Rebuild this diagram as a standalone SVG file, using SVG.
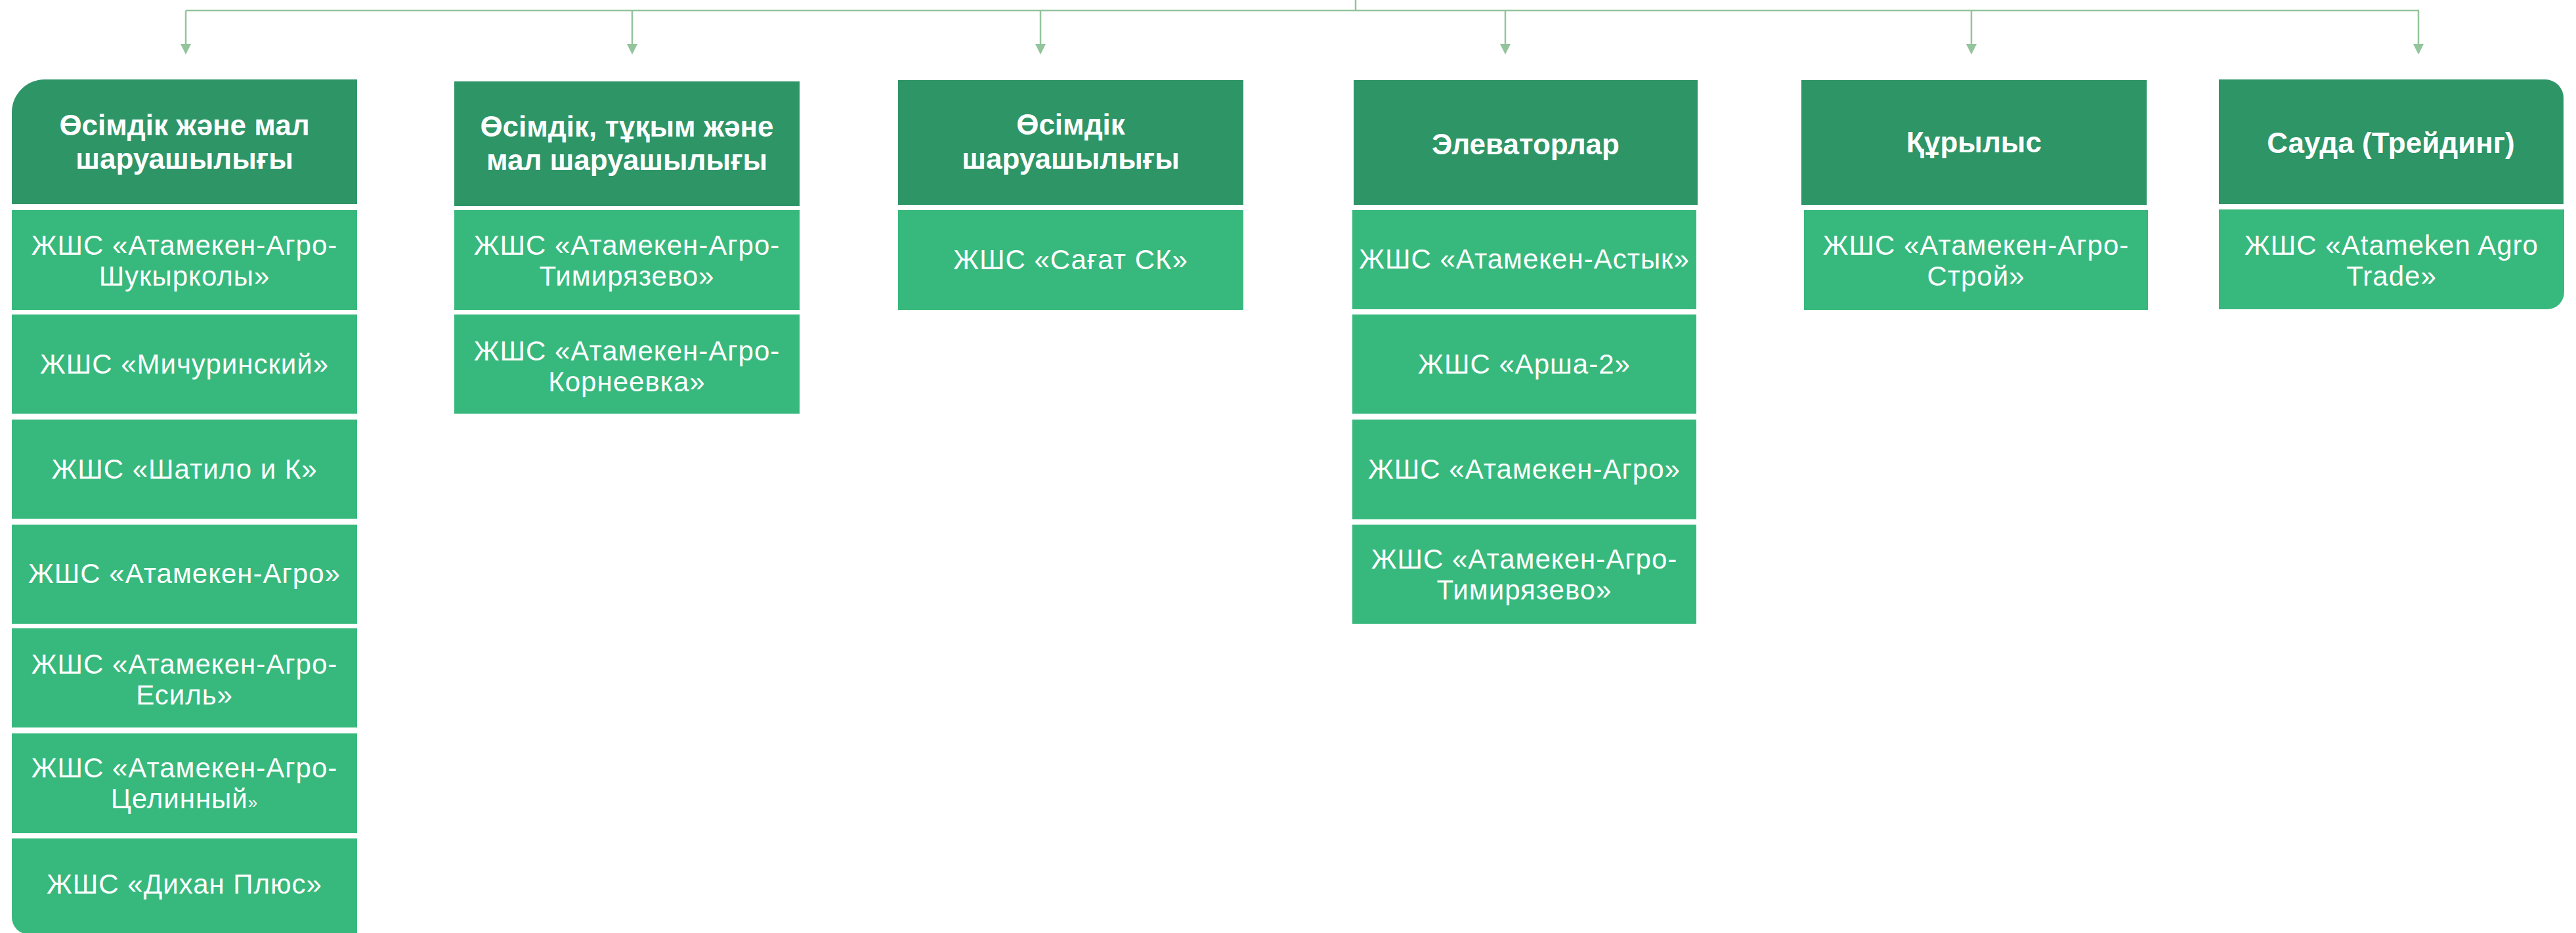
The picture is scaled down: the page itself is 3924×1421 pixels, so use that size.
<svg xmlns="http://www.w3.org/2000/svg" width="3924" height="1421" viewBox="0 0 3924 1421">
<style>
.hd{fill:#2E9567}
.ch{fill:#37B97D}
.ht{font-family:"Liberation Sans",Arial,sans-serif;font-weight:bold;font-size:44px;fill:#fff;text-anchor:middle}
.ct{font-family:"Liberation Sans",Arial,sans-serif;font-size:42px;letter-spacing:1px;fill:#fff;text-anchor:middle}
.ln{stroke:#93C49C;stroke-width:2.5;fill:none}
.ah{fill:#93C49C}
</style>
<rect width="3924" height="1421" fill="#fff"/>
<g id="connectors">
<path class="ln" d="M2065 0V16M283 16H3685M283 16V68M963 16V68M1585 16V68M2293 16V68M3003 16V68M3684 16V68"/>
<polygon class="ah" points="275,67 291,67 283,83"/>
<polygon class="ah" points="955,67 971,67 963,83"/>
<polygon class="ah" points="1577,67 1593,67 1585,83"/>
<polygon class="ah" points="2285,67 2301,67 2293,83"/>
<polygon class="ah" points="2995,67 3011,67 3003,83"/>
<polygon class="ah" points="3676,67 3692,67 3684,83"/>
</g>
<g id="col1-header"><path class="hd" d="M18 311V171A50 50 0 0 1 68 121H544V311Z"/><text class="ht" x="281" y="206">Өсімдік және мал</text><text class="ht" x="281" y="257">шаруашылығы</text></g>
<g id="col1-c1"><rect class="ch" x="18" y="320" width="526" height="152"/><text class="ct" x="281" y="388">ЖШС «Атамекен-Агро-</text><text class="ct" x="281" y="435">Шукырколы»</text></g>
<g id="col1-c2"><rect class="ch" x="18" y="479" width="526" height="151"/><text class="ct" x="281" y="569">ЖШС «Мичуринский»</text></g>
<g id="col1-c3"><rect class="ch" x="18" y="639" width="526" height="151"/><text class="ct" x="281" y="729">ЖШС «Шатило и К»</text></g>
<g id="col1-c4"><rect class="ch" x="18" y="799" width="526" height="151"/><text class="ct" x="281" y="888">ЖШС «Атамекен-Агро»</text></g>
<g id="col1-c5"><rect class="ch" x="18" y="957" width="526" height="151"/><text class="ct" x="281" y="1026">ЖШС «Атамекен-Агро-</text><text class="ct" x="281" y="1073">Есиль»</text></g>
<g id="col1-c6"><rect class="ch" x="18" y="1117" width="526" height="152"/><text class="ct" x="281" y="1184">ЖШС «Атамекен-Агро-</text><text class="ct" x="281" y="1231">Целинный<tspan font-size="26">»</tspan></text></g>
<g id="col1-c7"><path class="ch" d="M18 1277H544V1423H44A26 26 0 0 1 18 1397Z"/><text class="ct" x="281" y="1361">ЖШС «Дихан Плюс»</text></g>
<g id="col2-header"><rect class="hd" x="692" y="124" width="526" height="190"/><text class="ht" x="955" y="208">Өсімдік, тұқым және</text><text class="ht" x="955" y="259">мал шаруашылығы</text></g>
<g id="col2-c1"><rect class="ch" x="692" y="320" width="526" height="152"/><text class="ct" x="955" y="388">ЖШС «Атамекен-Агро-</text><text class="ct" x="955" y="435">Тимирязево»</text></g>
<g id="col2-c2"><rect class="ch" x="692" y="479" width="526" height="151"/><text class="ct" x="955" y="549">ЖШС «Атамекен-Агро-</text><text class="ct" x="955" y="596">Корнеевка»</text></g>
<g id="col3-header"><rect class="hd" x="1368" y="122" width="526" height="190"/><text class="ht" x="1631" y="205">Өсімдік</text><text class="ht" x="1631" y="257">шаруашылығы</text></g>
<g id="col3-c1"><rect class="ch" x="1368" y="320" width="526" height="152"/><text class="ct" x="1631" y="410">ЖШС «Сағат СК»</text></g>
<g id="col4-header"><rect class="hd" x="2062" y="122" width="524" height="190"/><text class="ht" x="2324" y="235">Элеваторлар</text></g>
<g id="col4-c1"><rect class="ch" x="2060" y="320" width="524" height="151"/><text class="ct" x="2322" y="409">ЖШС «Атамекен-Астык»</text></g>
<g id="col4-c2"><rect class="ch" x="2060" y="479" width="524" height="151"/><text class="ct" x="2322" y="569">ЖШС «Арша-2»</text></g>
<g id="col4-c3"><rect class="ch" x="2060" y="639" width="524" height="152"/><text class="ct" x="2322" y="729">ЖШС «Атамекен-Агро»</text></g>
<g id="col4-c4"><rect class="ch" x="2060" y="799" width="524" height="151"/><text class="ct" x="2322" y="866">ЖШС «Атамекен-Агро-</text><text class="ct" x="2322" y="913">Тимирязево»</text></g>
<g id="col5-header"><rect class="hd" x="2744" y="122" width="526" height="190"/><text class="ht" x="3007" y="232">Құрылыс</text></g>
<g id="col5-c1"><rect class="ch" x="2748" y="320" width="524" height="152"/><text class="ct" x="3010" y="388">ЖШС «Атамекен-Агро-</text><text class="ct" x="3010" y="435">Строй»</text></g>
<g id="col6-header"><path class="hd" d="M3380 121H3877A28 28 0 0 1 3905 149V311H3380Z"/><text class="ht" x="3642" y="233">Сауда (Трейдинг)</text></g>
<g id="col6-c1"><path class="ch" d="M3380 319H3906V445A26 26 0 0 1 3880 471H3380Z"/><text class="ct" x="3643" y="388">ЖШС «Atameken Agro</text><text class="ct" x="3643" y="435">Trade»</text></g>
</svg>
